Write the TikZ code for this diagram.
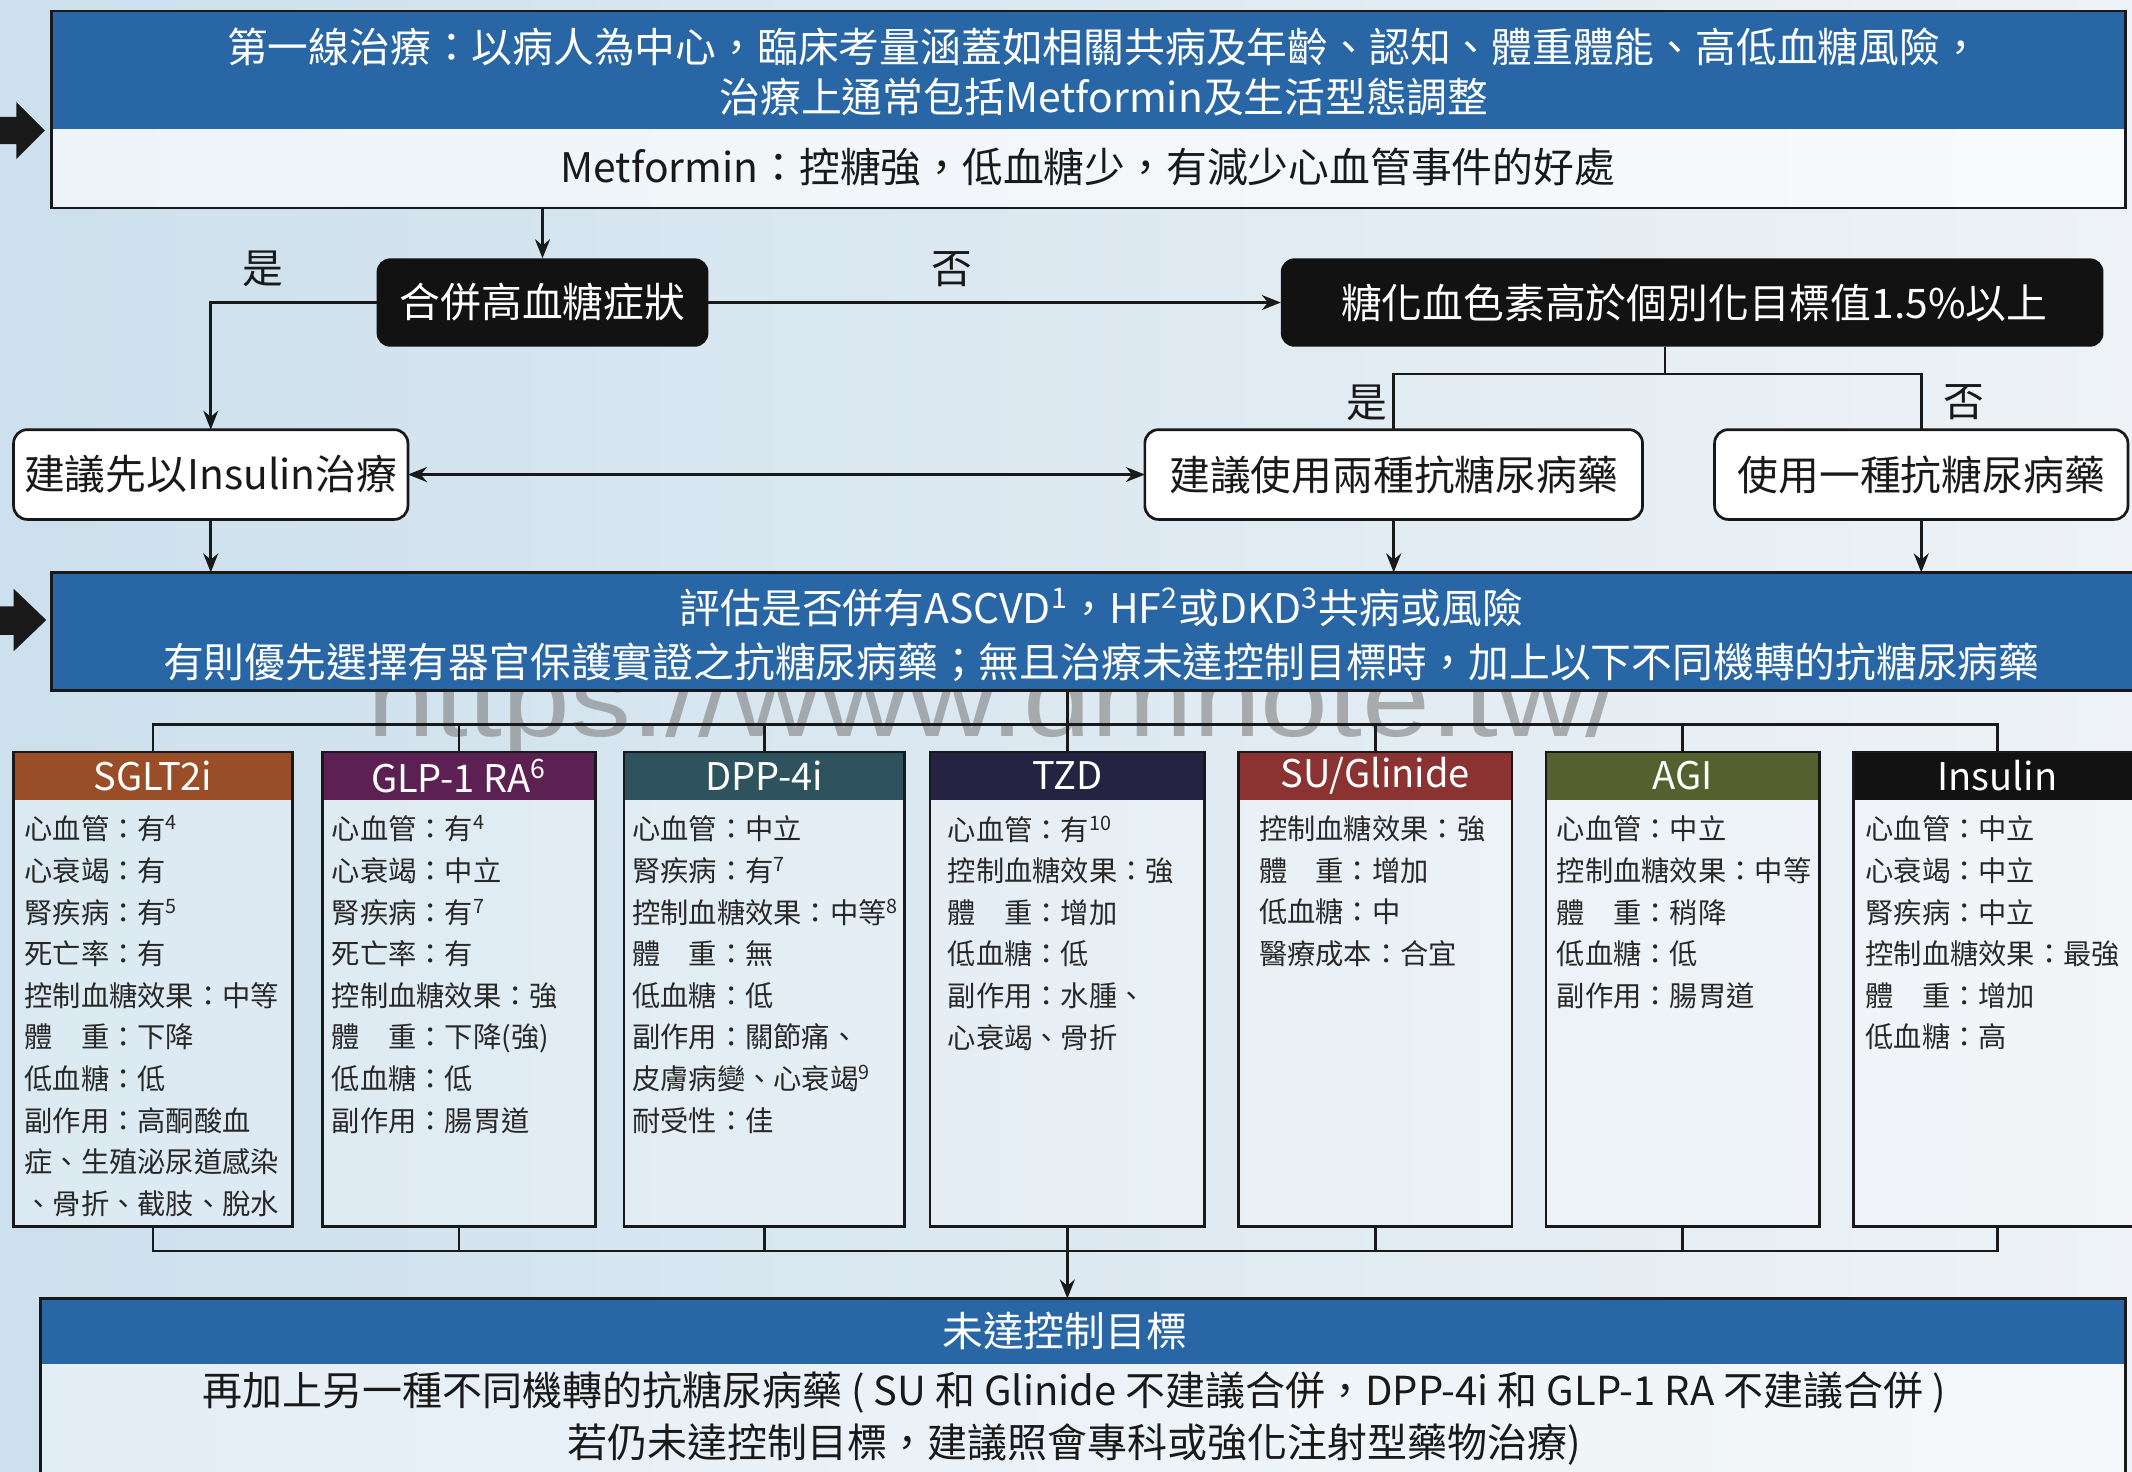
\documentclass[tikz,border=0pt]{standalone}
\usepackage{fontspec}
\setmainfont{Noto Sans CJK TC}
\newfontfamily\wmfont{Liberation Sans}
\usetikzlibrary{arrows.meta,fit,calc}
\definecolor{bandblue}{RGB}{40,102,166}
\definecolor{bgL}{RGB}{204,224,237}
\definecolor{bgR}{RGB}{238,242,246}
\definecolor{cSGLT}{RGB}{154,78,40}
\definecolor{cGLP}{RGB}{92,33,82}
\definecolor{cDPP}{RGB}{46,83,94}
\definecolor{cTZD}{RGB}{38,34,66}
\definecolor{cSU}{RGB}{139,50,50}
\definecolor{cAGI}{RGB}{84,96,46}
\definecolor{cINS}{RGB}{18,18,18}
\definecolor{ink}{RGB}{25,25,25}
\definecolor{bodyink}{RGB}{40,40,40}

\newcommand\drugbox[7]{%
  \node[area, draw=ink, line width=1pt, fill=white, fill opacity=0.3, fit={(#2,553) (#3,902)}] (#1) {};
  \node[area, fill=#4, fit={(#2,553) (#3,588)}] (#1H) {};
  \draw[ink, line width=1pt] (#1.north west) rectangle (#1.south east);
  \node[hfont, text=white] (#1L) at (#1H) {#5};
  \node[area, anchor=north west, align=left, bodyfont, text=bodyink] (#1T) at (#6,600) {#7};
}

\begin{document}
\begin{tikzpicture}[x=0.5pt,y=-0.5pt,
  ln/.style={draw=ink, line width=1pt},
  arr/.style={-{Stealth[length=7pt,width=5.5pt]}},
  darr/.style={{Stealth[length=7pt,width=5.5pt]}-{Stealth[length=7pt,width=5.5pt]}},
  area/.style={inner sep=0pt, outer sep=0pt},
  big/.style={font=\fontsize{15}{18.5}\selectfont},
  hfont/.style={font=\fontsize{14}{17}\selectfont},
  bodyfont/.style={font=\fontsize{10.4}{15.3}\selectfont},
  blackbox/.style={area, fill=cINS, rounded corners=5pt},
  whitebox/.style={area, draw=ink, line width=1pt, fill=white, rounded corners=5pt},
]
\useasboundingbox (0,0) rectangle (1568,1082);
\clip (0,0) rectangle (1568,1082);
\shade[left color=bgL, right color=bgR] (0,0) rectangle (1568,1082);

% left block arrows
\fill[ink] (0,86) -- (12,86) -- (12,75) -- (33,96) -- (12,117) -- (12,106) -- (0,106) -- cycle;
\fill[ink] (0,446) -- (10,446) -- (10,433) -- (34,456) -- (10,479) -- (10,467) -- (0,467) -- cycle;

% top box
\node[area, draw=ink, line width=1pt, fill=white, fill opacity=0.65, fit={(38,8) (1563,153)}] (top) {};
\node[area, fill=bandblue, fit={(38,8) (1563,95)}] (topband) {};
\draw[ink, line width=1pt] (top.north west) rectangle (top.south east);
\node[big, text=white, align=center] (toptext) at (812,53)
  {第一線治療：以病人為中心，臨床考量涵蓋如相關共病及年齡、認知、體重體能、高低血糖風險，\\治療上通常包括Metformin及生活型態調整};
\node[big, text=ink] (metf) at (800,123) {Metformin：控糖強，低血糖少，有減少心血管事件的好處};

% decision boxes
\node[blackbox, fit={(277,190) (521,255)}] (hyper) {};
\node[big, text=white] (hyperT) at (hyper) {合併高血糖症狀};
\node[blackbox, fit={(942,190) (1547,255)}] (hba) {};
\node[big, text=white] (hbaT) at (1246,222.5) {糖化血色素高於個別化目標值1.5\%以上};

\node[whitebox, fit={(10,316) (300,382)}] (ins) {};
\node[big, text=ink] (insT) at (ins) {建議先以Insulin治療};
\node[whitebox, fit={(842,316) (1208,382)}] (two) {};
\node[big, text=ink] (twoT) at (two) {建議使用兩種抗糖尿病藥};
\node[whitebox, fit={(1261,316) (1565,382)}] (one) {};
\node[big, text=ink] (oneT) at (one) {使用一種抗糖尿病藥};

% labels
\node[big, text=ink] (yes1) at (193,198) {是};
\node[big, text=ink] (no1) at (700,198) {否};
\node[big, text=ink] (yes2) at (1005,296) {是};
\node[big, text=ink] (no2) at (1444,296) {否};

% connectors upper part
\draw[ln, arr] (top.south -| hyper.north) -- (hyper.north);
\draw[ln, arr] (hyper.west) -| (ins.north);
\draw[ln, arr] (hyper.east) -- (hba.west);
\coordinate (split) at ($(hba.south)+(-20,20)$);
\draw[ln] (hba.south -| split) -- (split);
\draw[ln] (two.north) |- (split) -| (one.north);
\draw[ln, darr] (ins.east) -- (two.west);

% watermark
\node[area, anchor=base west, font=\wmfont\fontsize{40}{40}\selectfont, text=gray, text opacity=0.6, xscale=1.12] (wm) at (270,542) {https://www.dmnote.tw/};

% evaluation box
\node[area, draw=ink, line width=1pt, fill=bandblue, fit={(38,421) (1575,508)}] (eval) {};
\node[text=white, align=center, font=\fontsize{15}{20}\selectfont] (evalT) at (810,467)
  {評估是否併有ASCVD\textsuperscript{1}，HF\textsuperscript{2}或DKD\textsuperscript{3}共病或風險\\有則優先選擇有器官保護實證之抗糖尿病藥；無且治療未達控制目標時，加上以下不同機轉的抗糖尿病藥};

\draw[ln, arr] (ins.south) -- (ins.south |- eval.north);
\draw[ln, arr] (two.south) -- (two.south |- eval.north);
\draw[ln, arr] (one.south) -- (one.south |- eval.north);

% drug boxes
\drugbox{sglt}{10}{215}{cSGLT}{SGLT2i}{18}{心血管：有\textsuperscript{4}\\心衰竭：有\\腎疾病：有\textsuperscript{5}\\死亡率：有\\控制血糖效果：中等\\體　重：下降\\低血糖：低\\副作用：高酮酸血\\症、生殖泌尿道感染\\、骨折、截肢、脫水}
\drugbox{glp}{237}{438}{cGLP}{GLP-1 RA\textsuperscript{6}}{244}{心血管：有\textsuperscript{4}\\心衰竭：中立\\腎疾病：有\textsuperscript{7}\\死亡率：有\\控制血糖效果：強\\體　重：下降(強)\\低血糖：低\\副作用：腸胃道}
\drugbox{dpp}{459}{665}{cDPP}{DPP-4i}{465}{心血管：中立\\腎疾病：有\textsuperscript{7}\\控制血糖效果：中等\textsuperscript{8}\\體　重：無\\低血糖：低\\副作用：關節痛、\\皮膚病變、心衰竭\textsuperscript{9}\\耐受性：佳}
\drugbox{tzd}{684}{886}{cTZD}{TZD}{697}{心血管：有\textsuperscript{10}\\控制血糖效果：強\\體　重：增加\\低血糖：低\\副作用：水腫、\\心衰竭、骨折}
\drugbox{su}{911}{1112}{cSU}{SU/Glinide}{926}{控制血糖效果：強\\體　重：增加\\低血糖：中\\醫療成本：合宜}
\drugbox{agi}{1137}{1338}{cAGI}{AGI}{1145}{心血管：中立\\控制血糖效果：中等\\體　重：稍降\\低血糖：低\\副作用：腸胃道}
\drugbox{insl}{1363}{1575}{cINS}{Insulin}{1372}{心血管：中立\\心衰竭：中立\\腎疾病：中立\\控制血糖效果：最強\\體　重：增加\\低血糖：高}

% bus above drug boxes
\coordinate (busT) at ($(tzd.north)+(0,-20)$);
\draw[ln] (eval.south -| busT) -- (busT);
\foreach \b in {sglt,glp,dpp,tzd,su,agi,insl} {\draw[ln] (\b.north) |- (busT);}

% final box
\node[area, draw=ink, line width=1pt, fill=white, fill opacity=0.45, fit={(30,955) (1563,1100)}] (final) {};
\node[area, fill=bandblue, fit={(30,955) (1563,1003)}] (finalband) {};
\draw[ink, line width=1pt] (final.north west) rectangle (final.south east);
\node[big, text=white] (finalT) at (783,979) {未達控制目標};
\node[text=ink, align=center, font=\fontsize{14.7}{19}\selectfont] (finalB) at (790,1043)
  {再加上另一種不同機轉的抗糖尿病藥 ( SU 和 Glinide 不建議合併，DPP-4i 和 GLP-1 RA 不建議合併 )\\若仍未達控制目標，建議照會專科或強化注射型藥物治療)};

% bus below drug boxes
\coordinate (busB) at ($(tzd.south)+(0,18)$);
\foreach \b in {sglt,glp,dpp,tzd,su,agi,insl} {\draw[ln] (\b.south) |- (busB);}
\draw[ln, arr] (busB) -- (busB |- final.north);
\end{tikzpicture}
\end{document}
